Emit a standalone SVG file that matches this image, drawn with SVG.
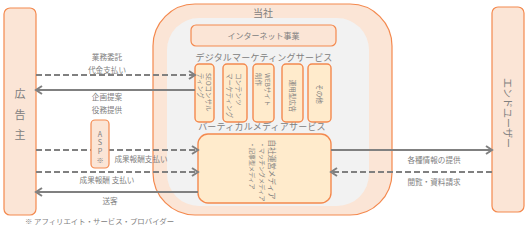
<svg xmlns="http://www.w3.org/2000/svg" width="528" height="229" viewBox="0 0 528 229">
<style>
text{font-family:"Noto Sans CJK JP","Noto Sans",sans-serif;fill:#808080;}
.lbl{font-size:7.6px;text-anchor:middle;}
.peach{fill:#fbe5d6;stroke:#f4894e;stroke-width:1.2;}
.cream{fill:#ffebcc;stroke:#f4894e;stroke-width:1.4;}
.ln{stroke:#808080;stroke-width:2;fill:none;}
.dash{stroke-dasharray:6,3;}
.vt{font-size:6.5px;}
.asp{font-size:7.2px;text-anchor:middle;}
</style>
<defs>
<marker id="ah" markerWidth="10" markerHeight="10" refX="8" refY="5" orient="auto" markerUnits="userSpaceOnUse">
<path d="M2,1 L8,5 L2,9" fill="none" stroke="#808080" stroke-width="2"/>
</marker>
</defs>
<rect width="528" height="229" fill="#ffffff"/>
<g id="company">
<rect x="153" y="4" width="239" height="211" rx="42" class="peach"/>
<rect x="167" y="18" width="202" height="188" rx="32" fill="#f2f2f2"/>
<text x="263" y="16.5" style="font-size:10px;text-anchor:middle">当社</text>
</g>
<g id="internet">
<rect x="191" y="25" width="145" height="21" rx="5" class="peach"/>
<text x="263.5" y="38.5" style="font-size:8px;text-anchor:middle">インターネット事業</text>
</g>
<text x="264" y="60.5" style="font-size:9px;text-anchor:middle;letter-spacing:0.2px">デジタルマーケティングサービス</text>
<g id="seo">
<rect x="195" y="64" width="19" height="58" rx="4" class="cream"/>
<text class="vt" transform="translate(206,73) rotate(90)"><tspan x="0" y="0">SEOコンサル</tspan><tspan x="0" dy="8.5">ティング</tspan></text>
</g>
<g id="content">
<rect x="223" y="64" width="24" height="58" rx="4" class="cream"/>
<text class="vt" transform="translate(235.5,73) rotate(90)"><tspan x="0" y="0">コンテンツ</tspan><tspan x="0" dy="9">マーケティング</tspan></text>
</g>
<g id="web">
<rect x="253" y="64" width="21" height="58" rx="4" class="cream"/>
<text class="vt" transform="translate(264.5,73) rotate(90)"><tspan x="0" y="0">WEBサイト</tspan><tspan x="0" dy="9">制作</tspan></text>
</g>
<g id="ads">
<rect x="282" y="64" width="21" height="58" rx="4" class="cream"/>
<text class="vt" transform="translate(289.8,96) rotate(90)" text-anchor="middle">運用型広告</text>
</g>
<g id="other">
<rect x="308" y="64" width="23" height="58" rx="4" class="cream"/>
<text class="vt" transform="translate(317,94) rotate(90)" text-anchor="middle">その他</text>
</g>
<text x="262" y="129.5" style="font-size:9px;text-anchor:middle;letter-spacing:0.2px">バーティカルメディアサービス</text>
<g id="media">
<rect x="198" y="134" width="133" height="69" rx="10" class="cream"/>
<text transform="translate(269.2,139.5) rotate(90)" style="font-size:7.6px">自社運営メディア</text>
<text transform="translate(260.4,142) rotate(90)" style="font-size:6px">・マッチングメディア</text>
<text transform="translate(250.4,142) rotate(90)" style="font-size:6px">・記事型メディア</text>
</g>
<g id="advertiser">
<rect x="4" y="8" width="32" height="207" rx="6" class="peach"/>
<text x="20" y="98" style="font-size:11px;text-anchor:middle">広</text>
<text x="20" y="118.5" style="font-size:11px;text-anchor:middle">告</text>
<text x="20" y="139" style="font-size:11px;text-anchor:middle">主</text>
</g>
<g id="enduser">
<rect x="492" y="7" width="32" height="205" rx="6" class="peach"/>
<text transform="translate(504.2,113) rotate(90)" style="font-size:10px;text-anchor:middle">エンドユーザー</text>
</g>
<g id="connectors">
<line x1="36" y1="75" x2="195" y2="75" class="ln dash" marker-end="url(#ah)"/>
<line x1="195" y1="90" x2="36" y2="90" class="ln" marker-end="url(#ah)"/>
<line x1="36" y1="150" x2="198" y2="150" class="ln dash" marker-end="url(#ah)"/>
<line x1="36" y1="172" x2="198" y2="172" class="ln dash" marker-end="url(#ah)"/>
<line x1="198" y1="192" x2="36" y2="192" class="ln" marker-end="url(#ah)"/>
<line x1="331" y1="150" x2="492" y2="150" class="ln" marker-end="url(#ah)"/>
<line x1="492" y1="172" x2="331" y2="172" class="ln dash" marker-end="url(#ah)"/>
<text class="lbl" x="107" y="60">業務委託</text>
<text class="lbl" x="107" y="72.5">代金支払い</text>
<text class="lbl" x="107" y="100">企画提案</text>
<text class="lbl" x="107" y="113">役務提供</text>
<text class="lbl" x="141" y="162">成果報酬支払い</text>
<text class="lbl" x="107" y="183">成果報酬 支払い</text>
<text class="lbl" x="110" y="204">送客</text>
<text class="lbl" x="434" y="163">各種情報の提供</text>
<text class="lbl" x="434" y="185">閲覧・資料請求</text>
</g>
<g id="asp">
<rect x="91" y="120" width="18" height="48" rx="4" class="peach"/>
<text class="asp" x="100" y="136.5">A</text>
<text class="asp" x="100" y="145">S</text>
<text class="asp" x="100" y="153.5">P</text>
<text class="asp" x="100" y="162.5">※</text>
</g>
<text x="25" y="224" style="font-size:7.4px">※ アフィリエイト・サービス・プロバイダー</text>
</svg>
